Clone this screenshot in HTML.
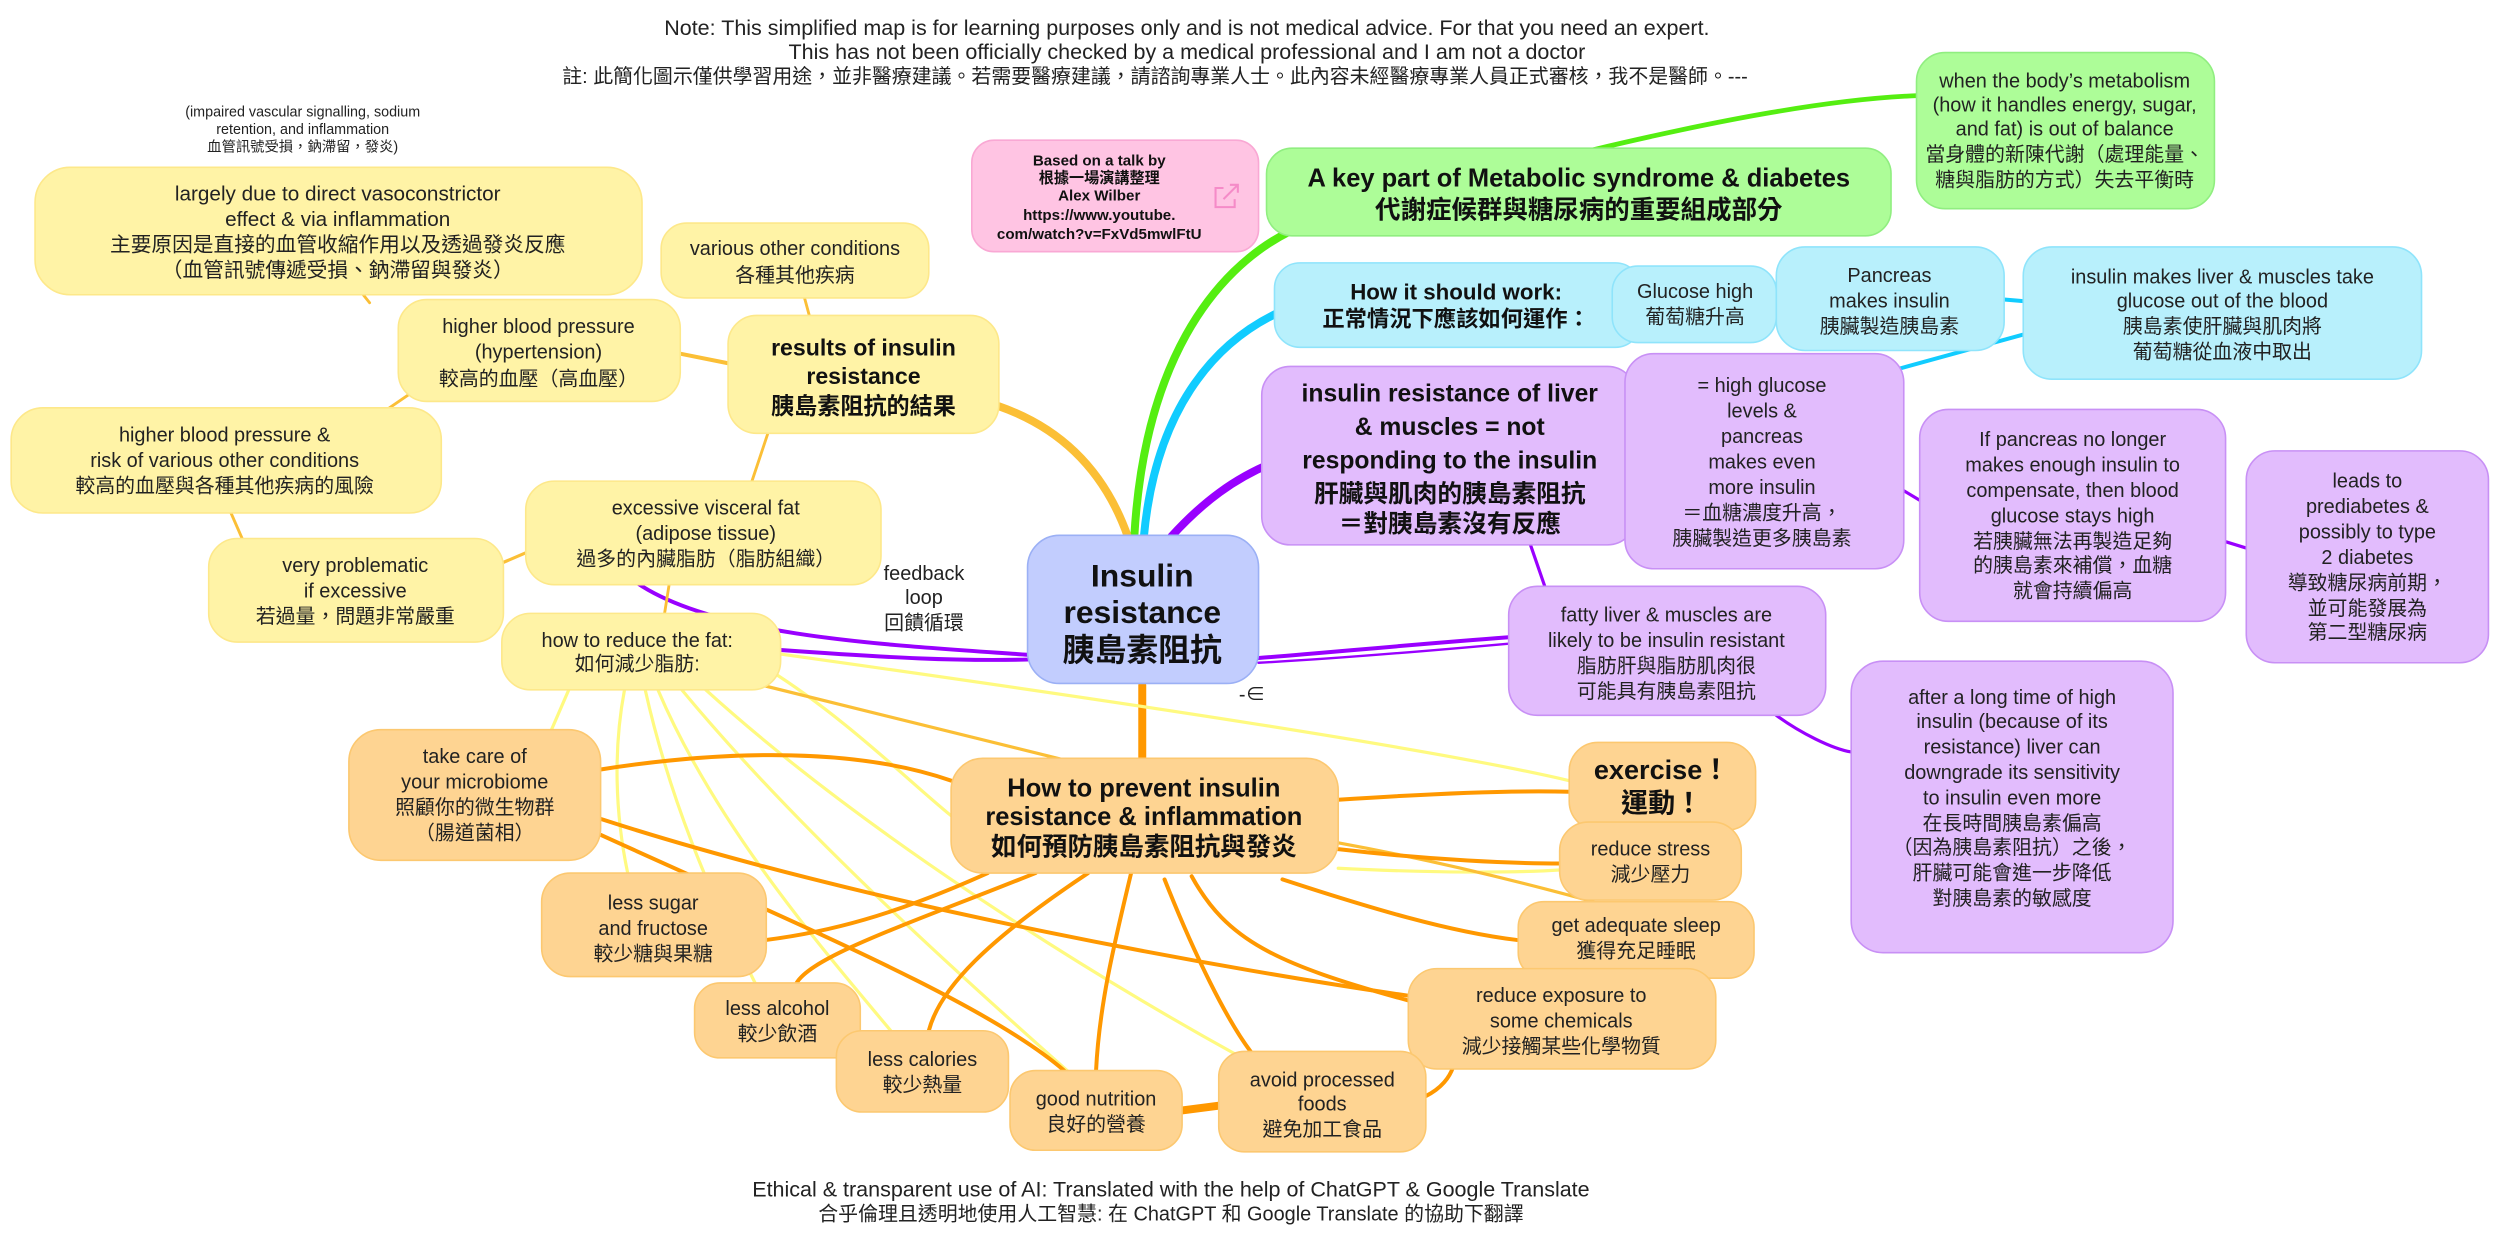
<!DOCTYPE html>
<html><head><meta charset="utf-8"><style>
html,body{margin:0;padding:0;background:#fff;}
svg{display:block;}
text{font-family:"Liberation Sans","Noto Sans CJK TC",sans-serif;fill:#222;text-anchor:middle;}
.b{font-weight:bold;fill:#111;}
</style></head><body>
<svg width="2498" height="1239" viewBox="0 0 1568 777.7" xmlns="http://www.w3.org/2000/svg">
<g fill="none" stroke-linecap="round">
<!-- main branches -->
<path d="M712 337 C 718 230, 760 170, 810 145" stroke="#55ee11" stroke-width="5"/>
<path d="M1000 94 C 1080 75, 1150 62, 1204 60" stroke="#55ee11" stroke-width="3"/>
<path d="M718 337 C 725 260, 760 215, 805 195" stroke="#11ccff" stroke-width="5"/>
<path d="M1258 188 L1270 189" stroke="#11ccff" stroke-width="2.5"/>
<path d="M1270 210 L1190 232" stroke="#11ccff" stroke-width="2.5"/>
<path d="M735 337 C 755 315, 775 300, 800 290" stroke="#9900ff" stroke-width="5"/>
<path d="M960 340 L970 369" stroke="#9900ff" stroke-width="2"/>
<path d="M947 400 C 880 405, 830 410, 790 413" stroke="#9900ff" stroke-width="2.5"/>
<path d="M947 404 C 880 410, 830 414, 790 416" stroke="#9900ff" stroke-width="1.5"/>
<path d="M1115 449 C 1130 460, 1150 470, 1162 472" stroke="#9900ff" stroke-width="2"/>
<path d="M1195 308 L1205 314" stroke="#9900ff" stroke-width="2"/>
<path d="M1397 340 L1410 344" stroke="#9900ff" stroke-width="2"/>
<path d="M400 366 C 450 400, 560 405, 645 411" stroke="#9900ff" stroke-width="2.5"/>
<path d="M490 408 C 560 413, 600 415, 645 414" stroke="#9900ff" stroke-width="2.5"/>
<path d="M708 337 C 695 300, 670 270, 627 255" stroke="#fbbf36" stroke-width="5"/>
<path d="M717 430 L717 477" stroke="#ff9800" stroke-width="5"/>
<!-- yellow tree links -->
<path d="M505 187 L508 198" stroke="#fbbf36" stroke-width="1.8"/>
<path d="M427 222 L457 228" stroke="#fbbf36" stroke-width="2.5"/>
<path d="M228 185 L232 190" stroke="#fbbf36" stroke-width="1.8"/>
<path d="M262 244 L240 259" stroke="#fbbf36" stroke-width="1.8"/>
<path d="M145 322 L152 338" stroke="#fbbf36" stroke-width="1.8"/>
<path d="M482 272 L472 302" stroke="#fbbf36" stroke-width="1.8"/>
<path d="M316 353 L330 347" stroke="#fbbf36" stroke-width="2"/>
<path d="M420 367 L417 386" stroke="#fbbf36" stroke-width="1.8"/>
<!-- light yellow lines from reduce fat -->
<g stroke="#fffa80" stroke-width="2">
<path d="M357 433 L341 470"/>
<path d="M392 433 C 385 470, 386 510, 394 548"/>
<path d="M405 433 C 420 500, 445 560, 474 617"/>
<path d="M413 433 C 450 520, 520 600, 560 648"/>
<path d="M428 433 C 500 520, 600 610, 671 673"/>
<path d="M443 433 C 550 530, 700 620, 776 662"/>
<path d="M486 410 C 700 440, 900 470, 985 490"/>
<path d="M482 420 C 530 450, 570 490, 597 512"/>
<path d="M840 545 C 900 548, 950 548, 980 546"/>
</g>
<path d="M478 430 C 560 450, 620 465, 668 477" stroke="#fbbf36" stroke-width="2"/>
<path d="M840 529 C 900 540, 960 555, 1000 566" stroke="#fbbf36" stroke-width="2"/>
<!-- orange links -->
<g stroke="#ff9800" stroke-width="2.5">
<path d="M377 483 C 460 470, 540 470, 597 490"/>
<path d="M377 514 C 550 570, 780 610, 884 625"/>
<path d="M377 524 C 500 580, 620 630, 668 672"/>
<path d="M620 548 C 560 575, 520 585, 481 590"/>
<path d="M650 548 C 570 580, 510 600, 500 617"/>
<path d="M683 548 C 620 590, 590 620, 583 647"/>
<path d="M710 548 C 700 590, 690 630, 688 672"/>
<path d="M731 552 C 750 600, 770 640, 785 660"/>
<path d="M748 550 C 770 590, 800 605, 884 628"/>
<path d="M805 552 C 860 570, 910 585, 952 590"/>
<path d="M840 533 C 900 540, 950 542, 980 542"/>
<path d="M840 502 C 900 498, 950 496, 985 497"/>
<path d="M895 688 C 905 683, 910 676, 912 670"/>
</g>
<path d="M742 697 L765 694" stroke="#ff9800" stroke-width="5"/>
</g>

<!-- nodes -->
<g stroke-width="1">
<rect x="645" y="336" width="145" height="93" rx="20" fill="#c2cdfe" stroke="#9bb0f5"/>
<rect x="795" y="93" width="392" height="55" rx="16" fill="#adfd98" stroke="#90ee80"/>
<rect x="1203" y="33" width="187" height="98" rx="18" fill="#adfd98" stroke="#90ee80"/>
<rect x="610" y="88" width="180" height="70" rx="14" fill="#ffc4e3" stroke="#f9a8d4"/>
<rect x="800" y="165" width="230" height="53" rx="16" fill="#b8f0fc" stroke="#8fe4fb"/>
<rect x="1012" y="167" width="103" height="48" rx="16" fill="#b8f0fc" stroke="#8fe4fb"/>
<rect x="1115" y="155" width="143" height="65" rx="18" fill="#b8f0fc" stroke="#8fe4fb"/>
<rect x="1270" y="155" width="250" height="83" rx="18" fill="#b8f0fc" stroke="#8fe4fb"/>
<rect x="792" y="230" width="235" height="112" rx="18" fill="#e2bcfd" stroke="#c890f5"/>
<rect x="1020" y="222" width="175" height="135" rx="18" fill="#e2bcfd" stroke="#c890f5"/>
<rect x="1205" y="257" width="192" height="133" rx="18" fill="#e2bcfd" stroke="#c890f5"/>
<rect x="1410" y="283" width="152" height="133" rx="18" fill="#e2bcfd" stroke="#c890f5"/>
<rect x="947" y="368" width="199" height="81" rx="18" fill="#e2bcfd" stroke="#c890f5"/>
<rect x="1162" y="415" width="202" height="183" rx="20" fill="#e2bcfd" stroke="#c890f5"/>
<rect x="415" y="140" width="168" height="47" rx="16" fill="#fff3a6" stroke="#fde88a"/>
<rect x="457" y="198" width="170" height="74" rx="18" fill="#fff3a6" stroke="#fde88a"/>
<rect x="22" y="105" width="381" height="80" rx="22" fill="#fff3a6" stroke="#fde88a"/>
<rect x="250" y="188" width="177" height="64" rx="18" fill="#fff3a6" stroke="#fde88a"/>
<rect x="7" y="256" width="270" height="66" rx="20" fill="#fff3a6" stroke="#fde88a"/>
<rect x="330" y="302" width="223" height="65" rx="18" fill="#fff3a6" stroke="#fde88a"/>
<rect x="131" y="338" width="185" height="65" rx="18" fill="#fff3a6" stroke="#fde88a"/>
<rect x="315" y="385" width="175" height="48" rx="18" fill="#fff3a6" stroke="#fde88a"/>
<rect x="219" y="458" width="158" height="82" rx="20" fill="#fed492" stroke="#fcc870"/>
<rect x="597" y="476" width="243" height="72" rx="20" fill="#fed492" stroke="#fcc870"/>
<rect x="985" y="466" width="117" height="55" rx="18" fill="#fed492" stroke="#fcc870"/>
<rect x="979" y="516" width="114" height="49" rx="18" fill="#fed492" stroke="#fcc870"/>
<rect x="953" y="566" width="148" height="48" rx="16" fill="#fed492" stroke="#fcc870"/>
<rect x="884" y="608" width="193" height="63" rx="18" fill="#fed492" stroke="#fcc870"/>
<rect x="340" y="548" width="141" height="65" rx="18" fill="#fed492" stroke="#fcc870"/>
<rect x="436" y="617" width="104" height="47" rx="16" fill="#fed492" stroke="#fcc870"/>
<rect x="525" y="647" width="108" height="51" rx="16" fill="#fed492" stroke="#fcc870"/>
<rect x="634" y="672" width="108" height="50" rx="16" fill="#fed492" stroke="#fcc870"/>
<rect x="765" y="660" width="130" height="63" rx="16" fill="#fed492" stroke="#fcc870"/>
</g>

<!-- texts -->
<g font-size="13.5">
<text x="745" y="22">Note: This simplified map is for learning purposes only and is not medical advice. For that you need an expert.</text>
<text x="745" y="37">This has not been officially checked by a medical professional and I am not a doctor</text>
<text x="735" y="751">Ethical &amp; transparent use of AI: Translated with the help of ChatGPT &amp; Google Translate</text>
</g>
<g font-size="12.5">
<text x="725" y="52">註: 此簡化圖示僅供學習用途，並非醫療建議。若需要醫療建議，請諮詢專業人士。此內容未經醫療專業人員正式審核，我不是醫師。---</text>
<text x="735" y="766">合乎倫理且透明地使用人工智慧: 在 ChatGPT 和 Google Translate 的協助下翻譯</text>
</g>
<g font-size="9">
<text x="190" y="73">(impaired vascular signalling, sodium</text>
<text x="190" y="84">retention, and inflammation</text>
<text x="190" y="95">血管訊號受損，鈉滯留，發炎)</text>
</g>

<g class="b" font-size="20"><text class="b" x="717" y="368">Insulin</text><text class="b" x="717" y="391">resistance</text><text class="b" x="717" y="415">胰島素阻抗</text></g>
<g font-size="16"><text class="b" x="991" y="117">A key part of Metabolic syndrome &amp; diabetes</text><text class="b" x="991" y="137">代謝症候群與糖尿病的重要組成部分</text></g>
<g font-size="12.5">
<text x="1296" y="55">when the body’s metabolism</text><text x="1296" y="70">(how it handles energy, sugar,</text><text x="1296" y="85">and fat) is out of balance</text><text x="1296" y="101">當身體的新陳代謝（處理能量、</text><text x="1296" y="117">糖與脂肪的方式）失去平衡時</text>
</g>
<g font-size="9.5">
<text class="b" x="690" y="104">Based on a talk  by</text><text class="b" x="690" y="115">根據一場演講整理</text><text class="b" x="690" y="126">Alex Wilber</text><text class="b" x="690" y="138">https://www.youtube.</text><text class="b" x="690" y="150">com/watch?v=FxVd5mwlFtU</text>
</g>
<g fill="none" stroke="#f58bc8" stroke-width="1.3"><path d="M768 118 h-5 v12 h12 v-5"/><path d="M768 125 L777 116 M772 116 h5 v5"/></g>
<g font-size="14"><text class="b" x="914" y="188">How it should work:</text><text class="b" x="914" y="205">正常情況下應該如何運作：</text></g>
<g font-size="12.5">
<text x="1064" y="187">Glucose high</text><text x="1064" y="203">葡萄糖升高</text>
<text x="1186" y="177">Pancreas</text><text x="1186" y="193">makes insulin</text><text x="1186" y="209">胰臟製造胰島素</text>
<text x="1395" y="178">insulin makes liver &amp; muscles take</text><text x="1395" y="193">glucose out of the blood</text><text x="1395" y="209">胰島素使肝臟與肌肉將</text><text x="1395" y="225">葡萄糖從血液中取出</text>
</g>
<g font-size="15.5">
<text class="b" x="910" y="252">insulin resistance of liver</text><text class="b" x="910" y="273">&amp; muscles = not</text><text class="b" x="910" y="294">responding to the insulin</text><text class="b" x="910" y="315">肝臟與肌肉的胰島素阻抗</text><text class="b" x="910" y="334">＝對胰島素沒有反應</text>
</g>
<g font-size="12.5">
<text x="1106" y="246">= high glucose</text><text x="1106" y="262">levels &amp;</text><text x="1106" y="278">pancreas</text><text x="1106" y="294">makes even</text><text x="1106" y="310">more insulin</text><text x="1106" y="326">＝血糖濃度升高，</text><text x="1106" y="342">胰臟製造更多胰島素</text>
<text x="1301" y="280">If pancreas no longer</text><text x="1301" y="296">makes enough insulin to</text><text x="1301" y="312">compensate, then blood</text><text x="1301" y="328">glucose stays high</text><text x="1301" y="344">若胰臟無法再製造足夠</text><text x="1301" y="359">的胰島素來補償，血糖</text><text x="1301" y="375">就會持續偏高</text>
<text x="1486" y="306">leads to</text><text x="1486" y="322">prediabetes &amp;</text><text x="1486" y="338">possibly to type</text><text x="1486" y="354">2 diabetes</text><text x="1486" y="370">導致糖尿病前期，</text><text x="1486" y="386">並可能發展為</text><text x="1486" y="401">第二型糖尿病</text>
<text x="1046" y="390">fatty liver &amp; muscles are</text><text x="1046" y="406">likely to be insulin resistant</text><text x="1046" y="422">脂肪肝與脂肪肌肉很</text><text x="1046" y="438">可能具有胰島素阻抗</text>
<text x="1263" y="442">after a long time of high</text><text x="1263" y="457">insulin (because of its</text><text x="1263" y="473">resistance) liver can</text><text x="1263" y="489">downgrade its sensitivity</text><text x="1263" y="505">to insulin even more</text><text x="1263" y="521">在長時間胰島素偏高</text><text x="1263" y="536">（因為胰島素阻抗）之後，</text><text x="1263" y="552">肝臟可能會進一步降低</text><text x="1263" y="568">對胰島素的敏感度</text>
<text x="499" y="160">various other conditions</text><text x="499" y="177">各種其他疾病</text>
</g>
<g font-size="14.5"><text class="b" x="542" y="223">results of insulin</text><text class="b" x="542" y="241">resistance</text><text class="b" x="542" y="260">胰島素阻抗的結果</text></g>
<g font-size="13">
<text x="212" y="126">largely due to direct vasoconstrictor</text><text x="212" y="142">effect &amp; via inflammation</text><text x="212" y="158">主要原因是直接的血管收縮作用以及透過發炎反應</text><text x="212" y="174">（血管訊號傳遞受損、鈉滯留與發炎）</text>
</g>
<g font-size="12.5">
<text x="338" y="209">higher blood pressure</text><text x="338" y="225">(hypertension)</text><text x="338" y="242">較高的血壓（高血壓）</text>
<text x="141" y="277">higher blood pressure &amp;</text><text x="141" y="293">risk of various other conditions</text><text x="141" y="309">較高的血壓與各種其他疾病的風險</text>
<text x="443" y="323">excessive visceral fat</text><text x="443" y="339">(adipose tissue)</text><text x="443" y="355">過多的內臟脂肪（脂肪組織）</text>
<text x="223" y="359">very problematic</text><text x="223" y="375">if excessive</text><text x="223" y="391">若過量，問題非常嚴重</text>
<text x="400" y="406">how to reduce the fat:</text><text x="400" y="421">如何減少脂肪:</text>
<text x="580" y="364">feedback</text><text x="580" y="379">loop</text><text x="580" y="395">回饋循環</text>
<text x="298" y="479">take care of</text><text x="298" y="495">your microbiome</text><text x="298" y="511">照顧你的微生物群</text><text x="298" y="527">（腸道菌相）</text>
</g>
<text x="786" y="440" font-size="12.5">-∈</text>
<g font-size="16"><text class="b" x="718" y="500">How to prevent insulin</text><text class="b" x="718" y="518">resistance &amp; inflammation</text><text class="b" x="718" y="537">如何預防胰島素阻抗與發炎</text></g>
<g font-size="17"><text class="b" x="1043" y="489">exercise！</text><text class="b" x="1043" y="510">運動！</text></g>
<g font-size="12.5">
<text x="1036" y="537">reduce stress</text><text x="1036" y="553">減少壓力</text>
<text x="1027" y="585">get adequate sleep</text><text x="1027" y="601">獲得充足睡眠</text>
<text x="980" y="629">reduce exposure to</text><text x="980" y="645">some chemicals</text><text x="980" y="661">減少接觸某些化學物質</text>
<text x="410" y="571">less sugar</text><text x="410" y="587">and fructose</text><text x="410" y="603">較少糖與果糖</text>
<text x="488" y="637">less alcohol</text><text x="488" y="653">較少飲酒</text>
<text x="579" y="669">less calories</text><text x="579" y="685">較少熱量</text>
<text x="688" y="694">good nutrition</text><text x="688" y="710">良好的營養</text>
<text x="830" y="682">avoid processed</text><text x="830" y="697">foods</text><text x="830" y="713">避免加工食品</text>
</g>
</svg>
</body></html>
